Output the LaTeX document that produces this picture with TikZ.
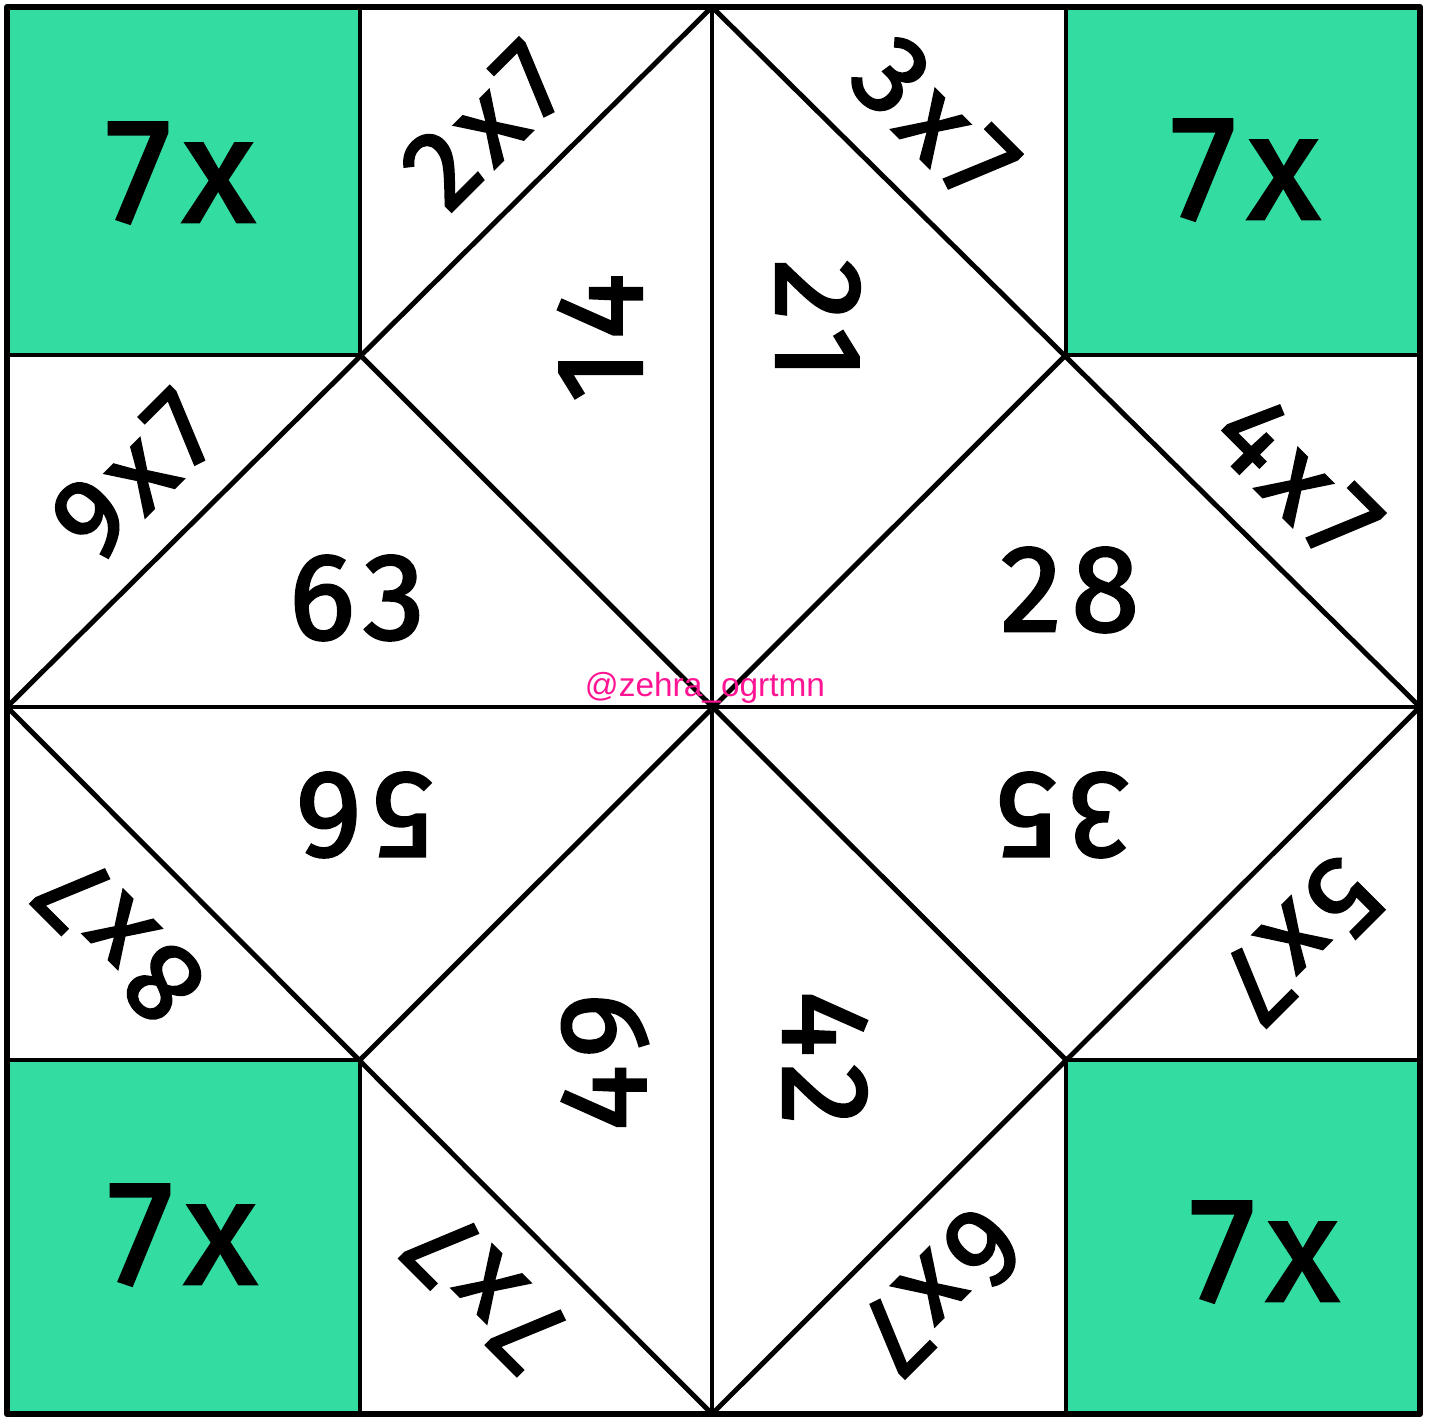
\documentclass[tikz,border=0pt]{standalone}
\usepackage{fontspec}
\setmainfont{Fira Sans}
\newfontfamily\numfont{Fira Sans}[FakeBold=2.2, LetterSpace=8]
\newfontfamily\tagfont{Liberation Sans}
\definecolor{tilegreen}{HTML}{33DDA2}
\definecolor{tagpink}{HTML}{FF1493}
\tikzset{
  fold/.style={line width=1.4pt, line cap=round, line join=round},
  bigtxt/.style={inner sep=0pt, font=\numfont\fontsize{42}{42}\selectfont},
  qtxt/.style={inner sep=0pt, font=\numfont\fontsize{32}{32}\selectfont},
  anstxt/.style={inner sep=0pt, font=\numfont\fontsize{35}{35}\selectfont},
}
\begin{document}
\begin{tikzpicture}[x=0.01cm, y=0.01cm]
    \useasboundingbox (0,0) rectangle (1435,1419);

    % Grid points
    \coordinate (tl) at (7,1412);
    \coordinate (tr) at (1420,1412);
    \coordinate (bl) at (7,5);
    \coordinate (br) at (1420,5);
    \coordinate (top) at (712,1412);
    \coordinate (bot) at (712,5);
    \coordinate (lft) at (7,712);
    \coordinate (rgt) at (1420,712);
    \coordinate (c) at (712,712);
    \coordinate (q1) at (360,1064);
    \coordinate (q2) at (1066,1064);
    \coordinate (q3) at (1066,359);
    \coordinate (q4) at (360,359);

    % Corner squares
    \fill[tilegreen] (tl) rectangle (q1);
    \fill[tilegreen] (tr) rectangle (q2);
    \fill[tilegreen] (bl) rectangle (q4);
    \fill[tilegreen] (br) rectangle (q3);

    % Folds
    \draw[fold] (top) -- (bot);
    \draw[fold] (lft) -- (rgt);
    \draw[fold] (top) -- (rgt) -- (bot) -- (lft) -- cycle;
    \draw[fold] (q1) -- (q3);
    \draw[fold] (q2) -- (q4);
    \draw[fold] (q1 |- tl) -- (q1) -- (q1 -| lft);
    \draw[fold] (q2 |- tr) -- (q2) -- (q2 -| rgt);
    \draw[fold] (q4 |- bl) -- (q4) -- (q4 -| lft);
    \draw[fold] (q3 |- br) -- (q3) -- (q3 -| rgt);
    \draw[line width=1.7pt, line join=round] (bl) rectangle (tr);

    % Corner labels
    \node[bigtxt] (sevenA) at (180,1246) {7x};
    \node[bigtxt] (sevenB) at (1245,1249) {7x};
    \node[bigtxt] (sevenC) at (182,184) {7x};
    \node[bigtxt] (sevenD) at (1264,167) {7x};

    % Questions
    \node[qtxt, rotate=45] (q2x7) at (485,1294) {2x7};
    \node[qtxt, rotate=-45] (q3x7) at (935,1299) {3x7};
    \node[qtxt, rotate=-45] (q4x7) at (1297,941) {4x7};
    \node[qtxt, rotate=225] (q5x7) at (1300,479) {5x7};
    \node[qtxt, rotate=225] (q6x7) at (940,129) {6x7};
    \node[qtxt, rotate=135] (q7x7) at (485,129) {7x7};
    \node[qtxt, rotate=135] (q8x7) at (120,479) {8x7};
    \node[qtxt, rotate=45] (q9x7) at (135,944) {9x7};

    % Answers
    \node[anstxt, rotate=90] (a14) at (600,1081) {14};
    \node[anstxt, rotate=-90] (a21) at (818,1099) {21};
    \node[anstxt] (a28) at (1070,829) {28};
    \node[anstxt, rotate=180] (a35) at (1062,604) {35};
    \node[anstxt, rotate=-90] (a42) at (825,361) {42};
    \node[anstxt, rotate=90] (a49) at (605,357) {49};
    \node[anstxt, rotate=180] (a56) at (365,604) {56};
    \node[anstxt] (a63) at (357,821) {63};

    % Tag
    \node[text=tagpink, inner sep=0pt, font=\tagfont\fontsize{9.5}{9.5}\selectfont] (tag) at (705,731) {@zehra\_ogrtmn};
\end{tikzpicture}
\end{document}
